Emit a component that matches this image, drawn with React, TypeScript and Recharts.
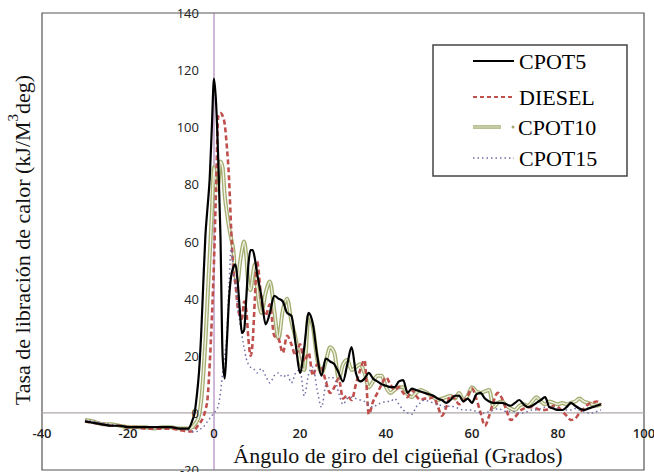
import React from 'react';
import { LineChart, Line, XAxis, YAxis, ReferenceLine, ReferenceArea, Legend } from 'recharts';

// crank angle (deg)
const angles = [
  -30, -28, -26, -24, -22, -20, -18, -16, -14, -12, -10, -8, -6,
  -5, -4.5, -4, -3.5, -3, -2.5, -2, -1.5, -1, -0.5, 0, 0.5, 1, 1.5, 2, 2.5,
  3, 3.5, 4, 4.5, 5, 5.5, 6, 6.5, 7, 7.5, 8, 8.5, 9, 9.5, 10,
  11, 12, 13, 14, 15, 16, 17, 18, 19, 20,
  21, 22, 23, 24, 25, 26, 27, 28, 29, 30,
  31, 32, 33, 34, 35, 36, 37, 38, 39, 40,
  41, 42, 43, 44, 45, 46, 47, 48, 49, 50,
  51, 52, 53, 54, 55, 56, 57, 58, 59, 60,
  61, 62, 63, 64, 65, 66, 67, 68, 69, 70,
  71, 72, 73, 74, 75, 76, 77, 78, 79, 80,
  81, 82, 83, 84, 85, 86, 87, 88, 89, 90,
];

const cpot5 = [
  -3, -3.5, -4, -4.5, -4.5, -5, -5, -5, -5, -5, -5, -5.5, -5.5,
  -2.5, 0, 6, 14, 27, 45, 62, 72, 82, 100, 117, 108, 88, 62, 20, 12,
  25, 40, 48, 51, 52, 46, 36, 28, 29, 40, 52, 57, 57, 54, 49,
  41, 31, 35, 41, 40, 39, 35, 34, 24, 14,
  23, 35, 31, 20, 13, 19, 18, 17, 14, 11,
  17, 23, 14, 11, 12, 14, 12, 11, 10, 9.5,
  9, 9, 11, 11.5, 7, 8.5, 8, 7.5, 7, 6.5,
  6, 5, 4.5, 3.5, 4.5, 6, 6, 4, 5, 3.5,
  6.5, 7, 5, 4, 3.5, 3.5, 3.5, 3, 2.5, 3.5,
  4.5, 3, 2, 2.5, 3.5, 4.5, 5.5, 2, 1.5, 1,
  1, 2, 3.5, 2.5, 1.5, 1, 1.5, 2, 2.5, 3,
];

const diesel = [
  -3, -3.5, -4, -4.5, -4.5, -5, -5, -5.5, -5.5, -5.5, -5.5, -6, -6.5,
  -6.5, -6, -5, -4, -3, -1.5, 1, 5, 17, 33, 53, 80, 104, 105, 104, 101,
  93, 82, 64, 50, 45, 37, 34, 33, 39, 36, 26, 20, 25, 40, 53,
  40, 34, 38, 27, 26, 21, 27, 24, 20, 24,
  18, 21, 13, 17, 16, 11, 7, 9, 12, 5,
  6, 4.5, 10, 15, 18.5, -0.5, 4, 7, 10, 12.5,
  10, 8, 9, 7, 5.5, 8, 6, 4.5, 5, 5,
  5.5, 2.5, -1, 2, 6, 5, 3, 4, 6, 8.5,
  5, 0, -4.5, -1, 4, 7, 5, 1, -2.5, -1.5,
  0.5, 1.5, 2, 2, 1.5, 1, 1, 1.5, 2.5, 2,
  0.5, -1, -2.5, -2, 0, 1.5, 3, 3.5, 4, 3,
];

const cpot10 = [
  -2.5, -3, -4, -4, -4.5, -5, -5, -5, -5.5, -5, -5, -5.5, -5.5,
  -5, -4, -3, -1, 4, 13, 25, 40, 55, 70, 86, 78, 80, 88, 86, 76,
  70, 65, 61, 57, 48, 46, 52, 57, 60, 55, 45, 43, 48, 52, 44,
  35, 42, 46, 36, 26, 36, 40, 32, 26, 18,
  15, 34, 30, 19, 14, 18, 23, 21, 12, 17,
  18.5, 15, 16, 17, 14, 9, 11, 13, 13, 9,
  7, 8, 9, 9, 6.5, 5.5, 7, 8, 7.5, 6.5,
  5.5, 4.5, 5, 5.5, 6, 5, 7, 4.5, 6, 9,
  7.5, 7, 7.5, 8, 2, 3.5, 4, 2.5, 1.5, 1,
  2.5, 3, 2.5, 4, 5.5, 4, 3, 4, 3.5, 3,
  3.5, 3, 3.5, 4, 5, 4, 3.5, 3, 2.5, 3,
];

const cpot15 = [
  -2.5, -3, -3.5, -4, -4.5, -5, -5, -5, -5, -5, -5, -5.5, -6,
  -6.5, -6.5, -6.5, -6, -5.5, -5, -4, -3, -2, -1, 0, 1, 2.5, 7, 14, 20,
  28, 45, 58, 50, 45, 38, 32, 27, 23, 19, 17, 16, 15.5, 15, 14,
  15.5, 13, 10.5, 13, 14, 12.5, 13.5, 10.5, 14, 15,
  6, 13.5, 16, 8, 2, 10, 12.5, 12, 7, 3,
  5, 5.5, 5, 4.5, 4, 3, 2, 3, 3.5, 4,
  4, 5, 3, 1, 0, -0.5, 2, 3.5, 4.5, 4,
  3.5, 3, 2.5, 2, 2.5, 2, 1.5, 1, 1, 1,
  0.5, 0, 0, 0.5, 1, 1.5, 1, 0.5, 0.5, 0.5,
  0, 0, 0.5, 1, 1, 1.5, 2, 2, 2, 1.5,
  1, 1, 1, 1.5, 1, 0.5, 0, 0, 0.5, 1,
];

const xTicks = [-40, -20, 0, 20, 40, 60, 80, 100];
const yTicks = [-20, 0, 20, 40, 60, 80, 100, 120, 140];

const data = angles.map((a, i) => ({
  angle: a,
  cpot5: cpot5[i],
  diesel: diesel[i],
  cpot10: cpot10[i],
  cpot15: cpot15[i],
}));

const RED = '#c0504d';
const OLIVE = '#a4ad70';
const BLUE = '#6e6ea8';
const serif = '"Liberation Serif", "Times New Roman", serif';
const sans = '"Open Sans", "Liberation Sans", sans-serif';

// axes cross at the origin, so tick labels are shifted next to the zero lines
const renderXTick = (p: any) => (
  <text key={p.index} x={p.x} y={p.y - 37} textAnchor="middle" dominantBaseline="central"
    fontFamily={sans} fontSize={13} fontWeight={600} fill="#222">
    {p.payload.value}
  </text>
);

const renderYTick = (p: any) => (
  <text key={p.index} x={p.x + 157} y={p.y} textAnchor="end" dominantBaseline="central"
    fontFamily={sans} fontSize={13} fill="#222">
    {p.payload.value}
  </text>
);

function LegendBox() {
  return (
    <svg width={196} height={133} style={{ display: 'block' }}>
      <rect x={1} y={1} width={194} height={131} fill="#fff" stroke="#444" strokeWidth={1.5} />
      <line x1={41} x2={82} y1={17} y2={17} stroke="#000" strokeWidth={2} />
      <text x={87} y={17} dominantBaseline="central" fontFamily={serif} fontSize={22}>CPOT5</text>
      <line x1={41} x2={82} y1={53} y2={53} stroke={RED} strokeWidth={2} strokeDasharray="4 3" />
      <text x={87} y={53} dominantBaseline="central" fontFamily={serif} fontSize={22}>DIESEL</text>
      <line x1={41} x2={69} y1={83} y2={83} stroke={OLIVE} strokeWidth={3.5} />
      <line x1={41} x2={69} y1={83} y2={83} stroke="#e6e9d2" strokeWidth={1} />
      <circle cx={81} cy={83} r={1.5} fill={OLIVE} />
      <text x={86} y={83} dominantBaseline="central" fontFamily={serif} fontSize={22}>CPOT10</text>
      <line x1={41} x2={82} y1={114} y2={114} stroke={BLUE} strokeWidth={1.5} strokeDasharray="1.5 3" />
      <text x={87} y={114} dominantBaseline="central" fontFamily={serif} fontSize={22}>CPOT15</text>
    </svg>
  );
}

export default function App() {
  return (
    <div style={{ position: 'absolute', left: 0, top: 0, width: 654, height: 472, background: '#fff' }}>
      <LineChart width={654} height={472} data={data} margin={{ top: 13, right: 10, bottom: 1, left: 41 }}>
        <XAxis dataKey="angle" type="number" domain={[-40, 100]} ticks={xTicks} height={1}
          axisLine={false} tickLine={false} tickSize={0} tickMargin={0} tick={renderXTick} interval={0} />
        <YAxis type="number" domain={[-20, 140]} ticks={yTicks} width={1}
          axisLine={false} tickLine={false} tickSize={0} tickMargin={0} tick={renderYTick} interval={0} />
        <ReferenceArea x1={-40} x2={100} y1={-20} y2={140} fill="none" stroke="#555" strokeWidth={1.2} ifOverflow="visible" />
        <ReferenceLine y={0} stroke="#b0a8ac" strokeWidth={1.2} />
        <ReferenceLine x={0} stroke="#a070b0" strokeWidth={1} />

        <Line type="monotone" dataKey="cpot10" stroke={OLIVE} strokeWidth={4} dot={false} isAnimationActive={false} />
        <Line type="monotone" dataKey="cpot10" stroke="#f2f3e6" strokeWidth={1.4} dot={false} isAnimationActive={false} legendType="none" />
        <Line type="monotone" dataKey="diesel" stroke={RED} strokeWidth={2.6} strokeDasharray="5 3" dot={false} isAnimationActive={false} />
        <Line type="monotone" dataKey="cpot15" stroke={BLUE} strokeWidth={1.5} strokeDasharray="1.5 3" dot={false} isAnimationActive={false} />
        <Line type="monotone" dataKey="cpot5" stroke="#000" strokeWidth={2.2} dot={false} isAnimationActive={false} />

        <Legend verticalAlign="middle" layout="horizontal" content={<LegendBox />}
          wrapperStyle={{ top: 44, left: 432, width: 196, height: 133 }} />

        <text x={22} y={240} transform="rotate(-90, 22, 240)" textAnchor="middle" dominantBaseline="central"
          fontFamily={serif} fontSize={22} fill="#111">
          Tasa de libración de calor (kJ/M<tspan dy={-9} fontSize={15}>3</tspan><tspan dy={9}>deg)</tspan>
        </text>
        <text x={398} y={455} textAnchor="middle" dominantBaseline="central" fontFamily={serif} fontSize={22} fill="#111">
          Ángulo de giro del cigüeñal (Grados)
        </text>
      </LineChart>
    </div>
  );
}
